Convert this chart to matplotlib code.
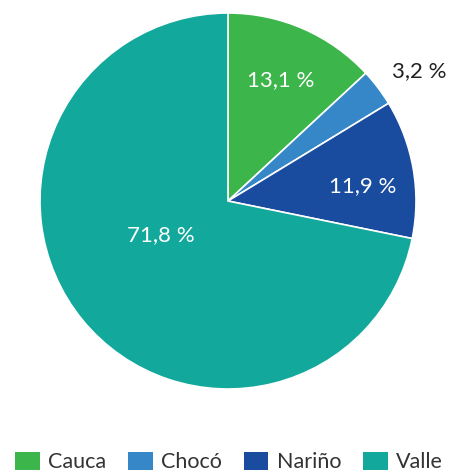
import numpy as np
import matplotlib
matplotlib.use("Agg")
import matplotlib.pyplot as plt
from matplotlib.patches import Patch

plt.rcParams['font.family'] = ['Lato', 'DejaVu Sans']

# data
regions = ["Cauca", "Chocó", "Nariño", "Valle"]
shares = [13.1, 3.2, 11.9, 71.8]
labels = ["13,1 %", "3,2 %", "11,9 %", "71,8 %"]
colors = ["#3cb54a", "#3587c8", "#194c9f", "#13a89c"]
# label placement: radial distance, angle shift (deg) and text colour per slice
label_dist = [0.70, 1.23, 0.72, 0.40]
label_shift = [0, -3, -3.5, -12]
label_col = ["white", "#222222", "white", "white"]

fig = plt.figure(figsize=(4.52, 4.74), dpi=100)
ax = fig.add_axes([40/452, 1-389/474, 376/452, 376/474])

wedges, _ = ax.pie(shares, colors=colors, startangle=90, counterclock=False,
                   wedgeprops=dict(edgecolor="white", linewidth=1.2))

for w, lab, d, s, c in zip(wedges, labels, label_dist, label_shift, label_col):
    mid = np.deg2rad((w.theta1 + w.theta2) / 2 + s)
    ax.text(d*np.cos(mid), d*np.sin(mid), lab, ha="center", va="center",
            color=c, fontsize=16)
ax.set_xlim(-1, 1)
ax.set_ylim(-1, 1)
ax.set_aspect("equal")

handles = [Patch(facecolor=c, edgecolor="none") for c in colors]
fig.legend(handles, regions, loc="center", bbox_to_anchor=(0.5 + 3/452, 1-462/474),
           ncol=4, frameon=False, fontsize=15.5, handlelength=1.15, handleheight=0.9,
           handletextpad=0.4, columnspacing=1.0, labelcolor="#333333",
           borderaxespad=0)

fig.savefig("out.png", dpi=100)
